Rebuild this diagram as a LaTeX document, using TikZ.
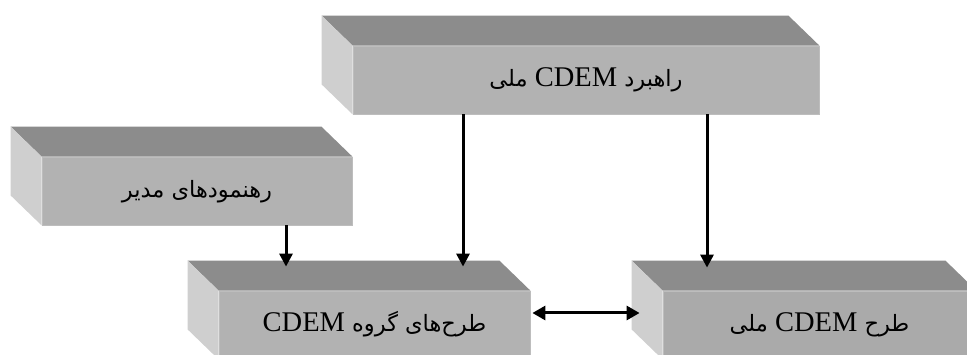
\documentclass[tikz,border=0pt]{standalone}
\usepackage{fontspec}
\setmainfont{Liberation Serif}
\newfontfamily\fafont[Script=Arabic]{DejaVu Sans}
\TeXXeTstate=1
\usetikzlibrary{arrows.meta}

\definecolor{topgray}{HTML}{8C8C8C}
\definecolor{sidegray}{HTML}{CFCFCF}
\definecolor{frontgray}{HTML}{B2B2B2}
\definecolor{frontdark}{HTML}{AAAAAA}
\definecolor{edgegray}{HTML}{BDBDBD}

\tikzset{
  frontbox/.style={rectangle, fill=frontgray, draw=edgegray, line width=0.8pt,
    minimum height=68, inner sep=0pt, text height=20pt, text depth=7pt,
    font=\fontsize{28.5}{32}\selectfont},
  topface/.style={fill=topgray},
  sideface/.style={fill=sidegray},
  arr/.style={line width=3pt, -{Triangle[length=13pt,width=13pt]}},
  biarr/.style={line width=3pt, {Triangle[length=13pt,width=14pt]}-{Triangle[length=13pt,width=14pt]}}
}

% top and left faces of a box, behind its front face
\newcommand\boxfaces[1]{%
  \fill[topface] (#1.north west) -- ++(-31,-30) -- ([shift={(-31,-30)}]#1.north east) -- (#1.north east) -- cycle;
  \fill[sideface] (#1.north west) -- ++(-31,-30) -- ([shift={(-31,-30)}]#1.south west) -- (#1.south west) -- cycle;
}
\newcommand\fa[1]{{\fafont\fontsize{22.5}{26}\selectfont #1}}

\begin{document}
\begin{tikzpicture}[x=1pt,y=-1pt]
  \clip (0,0) rectangle (967,355);
  \fill[white] (0,0) rectangle (967,355);

  \node[frontbox, minimum width=466] (A) at (586,80)
    {\beginR\fa{راهبرد} \beginL CDEM\endL{} \fa{ملی}\endR};
  \node[frontbox, minimum width=310] (B) at (197,191)
    {\beginR\fa{رهنمودهای مدیر}\endR};
  \node[frontbox, minimum width=311] (C) at (374.5,325)
    {\beginR\fa{طرح‌های گروه} \beginL CDEM\endL\endR};
  \node[frontbox, minimum width=313, fill=frontdark] (D) at (819.5,325)
    {\beginR\fa{طرح} \beginL CDEM\endL{} \fa{ملی}\endR};

  \boxfaces{A}
  \boxfaces{B}
  \boxfaces{C}
  \boxfaces{D}

  \draw[arr, shorten >=24pt] ([xshift=-123pt]A.south) -- ([xshift=88.5pt]C.north);
  \draw[arr, shorten >=23pt] ([xshift=121pt]A.south) -- ([xshift=-112.5pt]D.north);
  \draw[arr, shorten >=24pt] ([xshift=89pt]B.south) -- ([xshift=-88.5pt]C.north);
  \draw[biarr, shorten <=2pt, shorten >=23pt] ([yshift=12pt]C.east) -- ([yshift=12pt]D.west);
\end{tikzpicture}
\end{document}
